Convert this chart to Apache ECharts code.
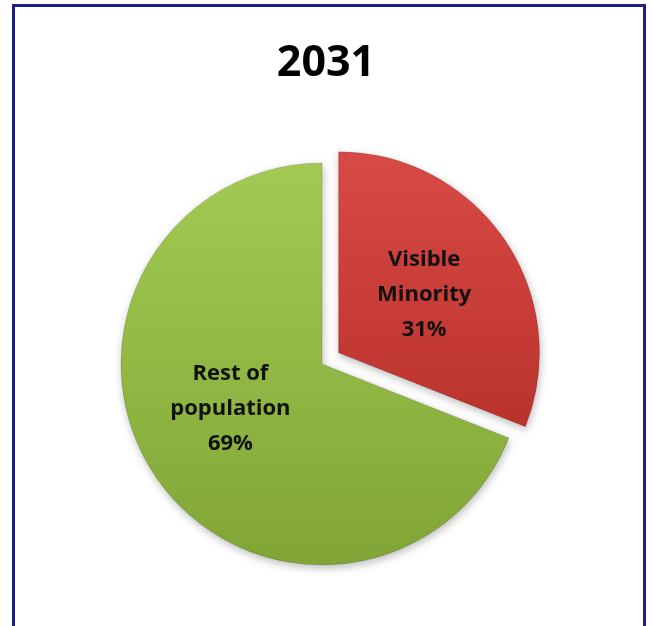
<!DOCTYPE html>
<html>
<head>
<meta charset="utf-8">
<script src="https://cdn.jsdelivr.net/npm/echarts@6/dist/echarts.min.js"></script>
<style>
  html, body { margin: 0; padding: 0; background: #ffffff; }
  #chart { position: absolute; left: 0; top: 0; width: 652px; height: 626px; }
  #frame {
    position: absolute; left: 12px; top: 4px; width: 628px; height: 700px;
    border: 3px solid #1e1e8c; pointer-events: none;
  }
</style>
</head>
<body>
<div id="chart"></div>
<div id="frame"></div>
<script>
  // Population share in 2031
  const chartTitle = '2031';
  const categories = ['Visible\nMinority', 'Rest of\npopulation'];
  const shares = [31, 69];

  // Per-slice appearance: bevel-like vertical gradient, exploded flag, label nudge
  const sliceStyles = [
    { top: '#d84a45', bottom: '#bb322d', exploded: true,  labelOffset: [4, -3] },
    { top: '#a3cb52', bottom: '#80a536', exploded: false, labelOffset: [-6, -13] }
  ];

  const seriesData = categories.map((name, i) => ({
    name: name,
    value: shares[i],
    selected: sliceStyles[i].exploded,
    label: { offset: sliceStyles[i].labelOffset },
    itemStyle: {
      color: {
        type: 'linear', x: 0, y: 0, x2: 0, y2: 1,
        colorStops: [
          { offset: 0, color: sliceStyles[i].top },
          { offset: 1, color: sliceStyles[i].bottom }
        ]
      }
    }
  }));

  const chart = echarts.init(document.getElementById('chart'), null, { renderer: 'canvas' });
  chart.setOption({
    animation: false,
    title: {
      text: chartTitle,
      left: 'center',
      top: 37,
      textStyle: {
        fontFamily: 'Open Sans',
        fontWeight: 'bold',
        fontSize: 43,
        color: '#000000'
      }
    },
    series: [{
      type: 'pie',
      center: [322, 364],
      radius: 201,
      startAngle: 90,
      clockwise: true,
      selectedMode: 'single',
      selectedOffset: 20,
      data: seriesData,
      itemStyle: {
        borderColor: 'rgba(0,0,0,0.12)',
        borderWidth: 1,
        shadowBlur: 8,
        shadowOffsetX: 1,
        shadowOffsetY: 3,
        shadowColor: 'rgba(60,60,60,0.35)'
      },
      label: {
        show: true,
        position: 'inside',
        formatter: '{b}\n{c}%',
        fontFamily: 'Open Sans',
        fontWeight: 'bold',
        fontSize: 22,
        lineHeight: 35,
        color: '#111111',
        align: 'center'
      },
      labelLine: { show: false },
      emphasis: { disabled: true },
      select: { disabled: false }
    }]
  });
</script>
</body>
</html>
